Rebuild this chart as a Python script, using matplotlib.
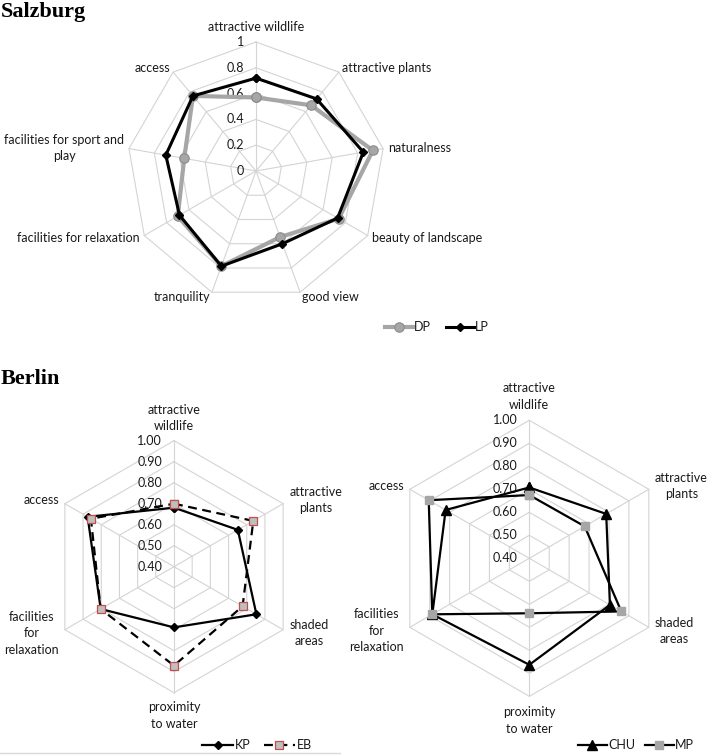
import numpy as np
import matplotlib
matplotlib.use('Agg')
import matplotlib.pyplot as plt
from matplotlib.lines import Line2D

W, H = 708, 755
plt.rcParams['font.family'] = ['Lato', 'DejaVu Sans']

# ---------------- data ----------------
salz_categories = ['attractive wildlife', 'attractive plants', 'naturalness',
                   'beauty of landscape', 'good view', 'tranquility',
                   'facilities for relaxation', 'facilities for sport and\nplay', 'access']
salz_dp = [0.57, 0.665, 0.92, 0.74, 0.545, 0.785, 0.70, 0.565, 0.76]
salz_lp = [0.72, 0.73, 0.845, 0.73, 0.60, 0.785, 0.685, 0.71, 0.76]
salz_ticks = [0.0, 0.2, 0.4, 0.6, 0.8, 1.0]
salz_tick_labels = ['0', '0.2', '0.4', '0.6', '0.8', '1']

berlin_categories = ['attractive\nwildlife', 'attractive\nplants', 'shaded\nareas',
                     'proximity\nto water', 'facilities\nfor\nrelaxation', 'access']
berlin_kp = [0.681, 0.751, 0.853, 0.689, 0.803, 0.875]
berlin_eb = [0.700, 0.836, 0.777, 0.871, 0.803, 0.857]
berlin_chu = [0.708, 0.786, 0.805, 0.863, 0.887, 0.820]
berlin_mp = [0.675, 0.678, 0.862, 0.639, 0.887, 0.905]
berlin_ticks = [0.4, 0.5, 0.6, 0.7, 0.8, 0.9, 1.0]
berlin_tick_labels = ['0.40', '0.50', '0.60', '0.70', '0.80', '0.90', '1.00']

GRID = '#D4D4D4'
TXT = '#1a1a1a'
FS = 9

fig = plt.figure(figsize=(W / 100, H / 100), dpi=100)


def make_radar(cx, cy, R, cats, ticks, tick_labels, pad_v, pad_h):
    ax = fig.add_axes([(cx - R) / W, 1 - (cy + R) / H, 2 * R / W, 2 * R / H],
                      projection='polar')
    ax.set_theta_zero_location('N')
    ax.set_theta_direction(-1)
    ax.set_xticks([])
    ax.set_yticks([])
    ax.grid(False)
    ax.spines['polar'].set_visible(False)
    ax.patch.set_visible(False)
    n = len(cats)
    ang = np.linspace(0, 2 * np.pi, n, endpoint=False)
    closed = np.append(ang, ang[0])
    rmin, rmax = ticks[0], ticks[-1]
    for t in ticks[1:]:
        ax.plot(closed, [t] * (n + 1), color=GRID, lw=0.8, zorder=1, clip_on=False)
    for a in ang:
        ax.plot([a, a], [rmin, rmax], color=GRID, lw=0.8, zorder=1, clip_on=False)
    for t, lbl in zip(ticks, tick_labels):
        ax.annotate(lbl, xy=(0, t), xytext=(-8.5, 0), textcoords='offset points',
                    ha='right', va='center', fontsize=FS, color=TXT, zorder=2)
    for a, c in zip(ang, cats):
        s, co = np.sin(a), np.cos(a)
        ha = 'left' if s > 0.05 else ('right' if s < -0.05 else 'center')
        if co > 0.95:
            va, pad = 'bottom', pad_v
        elif co < -0.95:
            va, pad = 'top', pad_v
        else:
            va, pad = 'center', pad_h
        ax.annotate(c, xy=(a, rmax), xytext=(pad * s, pad * co), textcoords='offset points',
                    ha=ha, va=va, multialignment='center', fontsize=FS, color=TXT,
                    linespacing=1.45)
    return ax, closed


def closed_vals(v):
    return list(v) + [v[0]]


# ---------------- Salzburg ----------------
ax1, th1 = make_radar(256, 171, 129, salz_categories, salz_ticks, salz_tick_labels, 6.5, 3.5)
dp_line, = ax1.plot(th1, closed_vals(salz_dp), color='#A6A6A6', lw=3.0, marker='o',
                    markersize=6.8, markerfacecolor='#A6A6A6', markeredgecolor='#8C8C8C',
                    markeredgewidth=0.8, zorder=3, clip_on=False)
lp_line, = ax1.plot(th1, closed_vals(salz_lp), color='black', lw=2.2, marker='D',
                    markersize=4.2, markerfacecolor='black', zorder=4, clip_on=False)
ax1.set_ylim(salz_ticks[0], salz_ticks[-1])
fig.legend([dp_line, lp_line], ['DP', 'LP'], loc='center',
           bbox_to_anchor=(437 / W, 1 - 327 / H), ncol=2, frameon=False, fontsize=FS,
           handlelength=2.2, handletextpad=0.1, columnspacing=1.2, labelcolor=TXT)

# ---------------- Berlin left ----------------
ax2, th2 = make_radar(174, 566.7, 126, berlin_categories, berlin_ticks, berlin_tick_labels, 6, 5)
kp_line, = ax2.plot(th2, closed_vals(berlin_kp), color='black', lw=1.6, marker='D',
                    markersize=3.8, zorder=3, clip_on=False)
eb_line, = ax2.plot(th2, closed_vals(berlin_eb), color='black', lw=1.6, ls=(0, (4, 2.5)),
                    marker='s', markersize=5.5, markerfacecolor='#BFBFBF',
                    markeredgecolor='#C0504D', markeredgewidth=0.9, zorder=4, clip_on=False)
ax2.set_ylim(berlin_ticks[0], berlin_ticks[-1])
fig.legend([kp_line, eb_line], ['KP', 'EB'], loc='center',
           bbox_to_anchor=(257 / W, 1 - 745 / H), ncol=2, frameon=False, fontsize=FS,
           handlelength=2.5, handletextpad=0.15, columnspacing=1.0, labelcolor=TXT)

# ---------------- Berlin right ----------------
ax3, th3 = make_radar(529.3, 558.3, 138, berlin_categories, berlin_ticks, berlin_tick_labels, 7, 5)
chu_line, = ax3.plot(th3, closed_vals(berlin_chu), color='black', lw=1.6, marker='^',
                     markersize=6.5, zorder=3, clip_on=False)
mp_line, = ax3.plot(th3, closed_vals(berlin_mp), color='black', lw=1.6, marker='s',
                    markersize=6, markerfacecolor='#A6A6A6', markeredgecolor='#A6A6A6',
                    zorder=4, clip_on=False)
ax3.set_ylim(berlin_ticks[0], berlin_ticks[-1])
fig.legend([chu_line, mp_line], ['CHU', 'MP'], loc='center',
           bbox_to_anchor=(636 / W, 1 - 745 / H), ncol=2, frameon=False, fontsize=FS,
           handlelength=2.3, handletextpad=0.1, columnspacing=0.8, labelcolor=TXT)

# ---------------- titles & frame ----------------
fig.text(1 / W, 1 - 16.5 / H, 'Salzburg', family='Liberation Serif', weight='bold',
         fontsize=16, va='baseline', ha='left')
fig.text(1 / W, 1 - 384 / H, 'Berlin', family='Liberation Serif', weight='bold',
         fontsize=16, va='baseline', ha='left')
fig.add_artist(Line2D([0, 340 / W], [1 - 753 / H, 1 - 753 / H], transform=fig.transFigure,
                      color='#D9D9D9', lw=1))

fig.savefig('out.png', dpi=100)
